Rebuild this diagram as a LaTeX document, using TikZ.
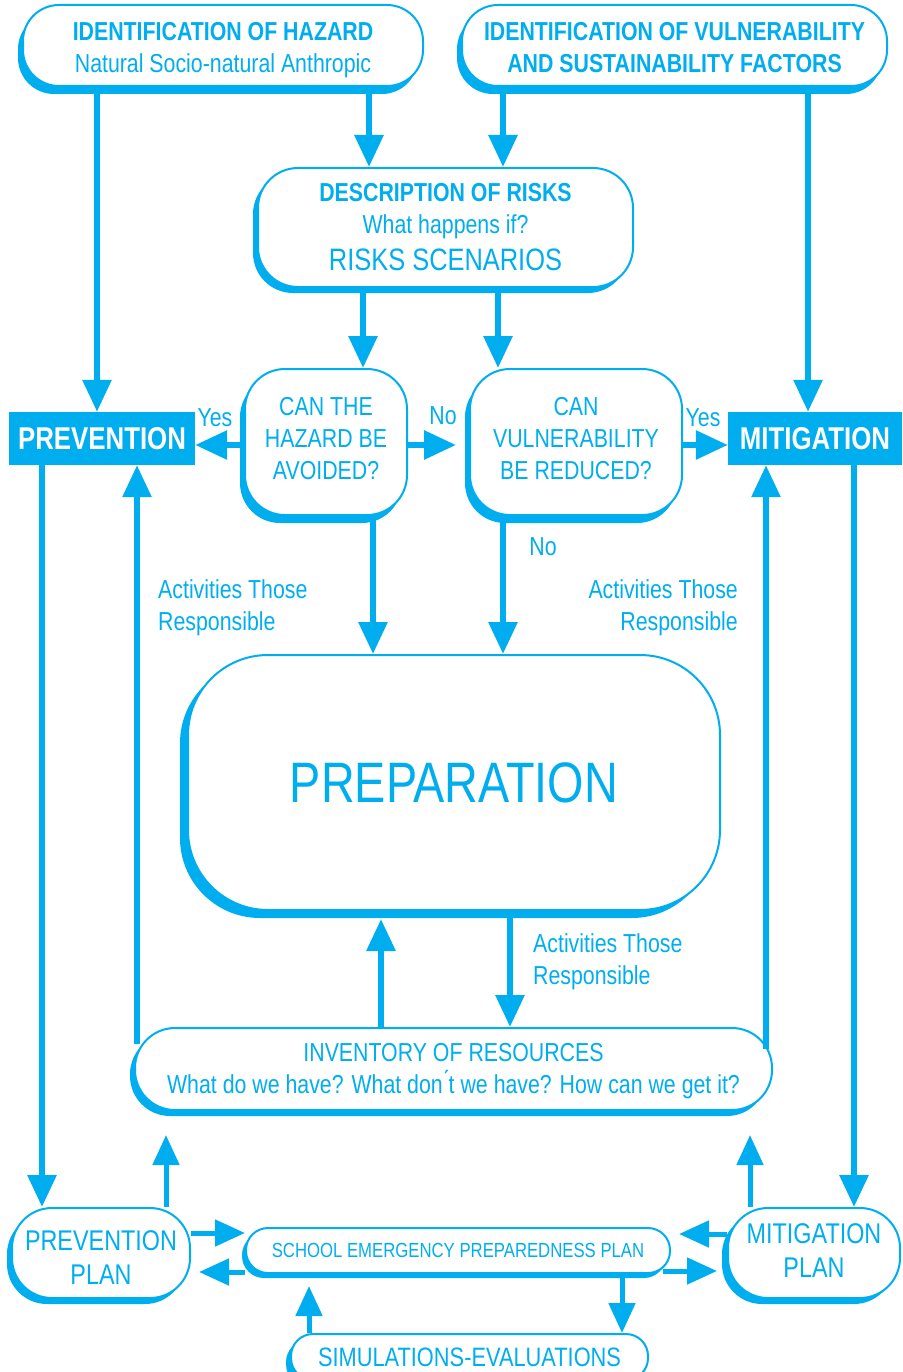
\documentclass[tikz,border=0pt]{standalone}
\usepackage{fontspec}
\setmainfont[FakeStretch=0.82]{Liberation Sans}
\usetikzlibrary{arrows.meta,shadows}
\definecolor{cy}{RGB}{0,174,239}
\begin{document}
\begin{tikzpicture}[x=1pt,y=-1pt,
  every node/.style={text=cy, font=\fontsize{26}{32}\selectfont},
  box/.style={draw=cy, line width=2pt, fill=white, rounded corners=#1, inner sep=0pt, align=center},
  box/.default=36pt,
  shad/.style 2 args={drop shadow={shadow xshift=#1, shadow yshift=#2, fill=cy, opacity=1}},
  solid box/.style={fill=cy, text=white, inner sep=0pt, font=\fontsize{31.5}{36}\selectfont\bfseries},
  arr/.style={draw=cy, line width=6pt, -{Triangle[width=28pt,length=32pt]}},
  arrs/.style={draw=cy, line width=5pt, -{Triangle[width=26pt,length=30pt]}},
  lbl/.style={inner sep=0pt}
]
\useasboundingbox (0,0) rectangle (902,1372);

% nodes
\node[box, shad={-5pt}{-8pt}, minimum width=400pt, minimum height=81pt, text height=58.6pt] (hazard) at (223,45.5)
  {{\bfseries IDENTIFICATION OF HAZARD}\\Natural Socio-natural Anthropic};
\node[box, shad={-5pt}{-8pt}, minimum width=425pt, minimum height=81pt, text height=54.6pt, font=\fontsize{26}{32}\selectfont\bfseries] (vuln) at (674.5,45.5)
  {IDENTIFICATION OF VULNERABILITY\\AND SUSTAINABILITY FACTORS};
\node[box=40pt, shad={-5pt}{-6pt}, minimum width=375pt, minimum height=119pt] (desc) at (445.5,227.5)
  {{\bfseries DESCRIPTION OF RISKS}\\What happens if?\\[5pt]{\fontsize{31}{36}\selectfont RISKS SCENARIOS}};
\node[box=40pt, shad={-5pt}{-8pt}, minimum width=162pt, minimum height=146pt, text depth=8pt] (q1) at (326,442)
  {CAN THE\\HAZARD BE\\AVOIDED?};
\node[box=40pt, shad={-5pt}{-8pt}, minimum width=212pt, minimum height=146pt, text depth=8pt] (q2) at (576,442)
  {CAN\\VULNERABILITY\\BE REDUCED?};
\node[solid box, minimum width=186pt, minimum height=53pt] (prev) at (102,438.5) {PREVENTION};
\node[solid box, minimum width=174pt, minimum height=53pt] (mit) at (815,438.5) {MITIGATION};
\node[box=80pt, shad={-8pt}{-8pt}, minimum width=532pt, minimum height=255pt, font=\fontsize{57}{60}\selectfont] (prep) at (454,782.5)
  {PREPARATION};
\node[box=40pt, shad={-5pt}{-6pt}, minimum width=637pt, minimum height=82pt, text height=54.6pt] (inv) at (453.5,1069)
  {INVENTORY OF RESOURCES\\What do we have? What don\'{}t we have? How can we get it?};
\node[box=40pt, shad={-5pt}{-6pt}, minimum width=178pt, minimum height=90pt, text height=62.4pt, font=\fontsize{28.5}{34}\selectfont] (pp) at (101,1253)
  {PREVENTION\\PLAN};
\node[box=40pt, shad={-6pt}{-6pt}, minimum width=172pt, minimum height=90pt, text depth=4pt, font=\fontsize{28.5}{34}\selectfont] (mp) at (814,1253)
  {MITIGATION\\PLAN};
\node[box=22pt, shad={-4pt}{-5pt}, minimum width=424pt, minimum height=45pt, font=\fontsize{20.4}{24}\selectfont] (school) at (458,1250.5)
  {SCHOOL EMERGENCY PREPAREDNESS PLAN};
\node[box=22pt, shad={-5pt}{-6pt}, minimum width=357pt, minimum height=46pt, font=\fontsize{26.6}{30}\selectfont] (sim) at (469.5,1357)
  {SIMULATIONS-EVALUATIONS};

% labels
\node[lbl] (yes1) at (215,418) {Yes};
\node[lbl] (no1) at (443,416) {No};
\node[lbl] (yes2) at (703,418) {Yes};
\node[lbl] (no2) at (543,547) {No};
\node[lbl, anchor=west, align=left] (act1) at (158,608) {Activities Those\\Responsible};
\node[lbl, anchor=east, align=right] (act2) at (738,608) {Activities Those\\Responsible};
\node[lbl, anchor=west, align=left] (act3) at (533,962) {Activities Those\\Responsible};

% free ends / helper coordinates
\coordinate (invL) at ([xshift=3pt,yshift=-17pt]inv.north west);
\coordinate (invR) at ([xshift=-7pt,yshift=-22pt]inv.north east);
\coordinate (ppUp) at (166,1135);
\coordinate (mpUp) at (750,1135);

% connectors
\draw[arr] (hazard.south -| 369,0) -- (desc.north -| 369,0);
\draw[arr] (vuln.south -| 503,0) -- (desc.north -| 503,0);
\draw[arr] (hazard.south -| 97,0) -- (prev.north -| 97,0);
\draw[arr] (vuln.south -| 808,0) -- (mit.north -| 808,0);
\draw[arr] (desc.south -| 363,0) -- (q1.north -| 363,0);
\draw[arr] (desc.south -| 498,0) -- (q2.north -| 498,0);
\draw[arr] (q1.west |- 0,445) -- (prev.east |- 0,445);
\draw[arr] (q1.east |- 0,445) -- ([xshift=-13pt]q2.west |- 0,445);
\draw[arr] (q2.east |- 0,445) -- (mit.west |- 0,445);
\draw[arr] (q1.south -| 373,0) -- (prep.north -| 373,0);
\draw[arr] (q2.south -| 503,0) -- (prep.north -| 503,0);
\draw[arr] (prev.south -| 42,0) -- (pp.north -| 42,0);
\draw[arr] (invL) -- (prev.south -| invL);
\draw[arr] (mit.south -| 854,0) -- (mp.north -| 854,0);
\draw[arr] (invR) -- (mit.south -| invR);
\draw[arr] (inv.north -| 381,0) -- ([yshift=-8pt]prep.south -| 381,0);
\draw[arr] (prep.south -| 510,0) -- (inv.north -| 510,0);

\draw[arrs] (pp.north -| ppUp) -- (ppUp);
\draw[arrs] (mp.north -| mpUp) -- (mpUp);
\draw[arrs] (188,1233 -| pp.east) -- (245,1233 -| school.west);
\draw[arrs] (school.west |- 0,1272) -- ([xshift=8pt]pp.east |- 0,1272);
\draw[arrs] (mp.west |- 0,1234) -- ([xshift=8pt]school.east |- 0,1234);
\draw[arrs] ([xshift=-8pt]school.east |- 0,1271) -- ([xshift=-10pt]mp.west |- 0,1271);
\draw[arrs] (sim.north -| 309,0) -- ([yshift=-12pt]school.south -| 309,0);
\draw[arrs] ([yshift=-3pt]school.south -| 622,0) -- (sim.north -| 622,0);
\end{tikzpicture}
\end{document}
